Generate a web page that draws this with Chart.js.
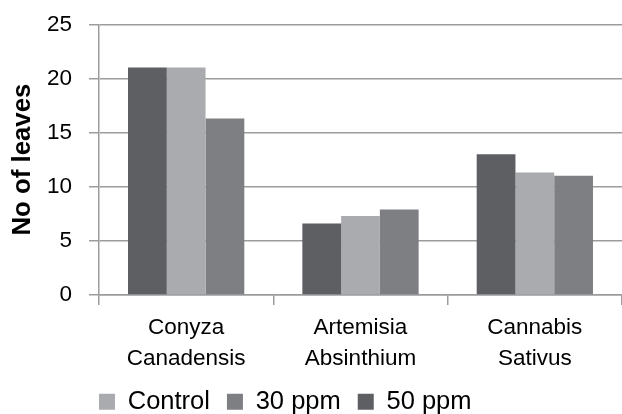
<!DOCTYPE html>
<html>
<head>
<meta charset="utf-8">
<script src="https://cdn.jsdelivr.net/npm/chart.js@4/dist/chart.umd.min.js"></script>
<style>
html,body{margin:0;padding:0;background:#fff;}
#wrap{width:622px;height:414px;}
</style>
</head>
<body>
<div id="wrap"><canvas id="c"></canvas></div>
<script>
const categories = [["Conyza","Canadensis"],["Artemisia","Absinthium"],["Cannabis","Sativus"]];
const ppm50 = [21, 6.6, 13];
const control = [21, 7.3, 11.3];
const ppm30 = [16.3, 7.9, 11];
const legendOrder = ["Control", "30 ppm", "50 ppm"];
const yTicks = [0, 5, 10, 15, 20, 25];

const gridColor = '#9c9c9c';
const FONT = '"Liberation Sans"';
const LEGEND_RAISE = 9;

const shiftLegend = {
  id: 'shiftLegend',
  afterLayout(chart) {
    const lg = chart.legend;
    const pad = lg.options.labels.padding;
    const w = lg.right - lg.left;
    lg.left = chart.chartArea.left - pad;
    lg.right = lg.left + w;
    lg.top -= LEGEND_RAISE;
    lg.bottom -= LEGEND_RAISE;
  }
};

new Chart(document.getElementById('c'), {
  type: 'bar',
  data: {
    labels: categories,
    datasets: [
      { label: '50 ppm', data: ppm50, backgroundColor: '#5e5f63' },
      { label: 'Control', data: control, backgroundColor: '#a9abae' },
      { label: '30 ppm', data: ppm30, backgroundColor: '#7e7f83' }
    ]
  },
  options: {
    responsive: true,
    maintainAspectRatio: false,
    animation: false,
    devicePixelRatio: 1,
    layout: { padding: { top: 2, right: 0, left: 7, bottom: -19.5 } },
    datasets: { bar: { categoryPercentage: 0.667, barPercentage: 1.0 } },
    plugins: {
      tooltip: { enabled: false },
      legend: {
        position: 'bottom',
        align: 'start',
        fullSize: false,
        labels: {
          boxWidth: 16,
          boxHeight: 16,
          padding: 17,
          color: '#000',
          font: { family: FONT, size: 25.5 },
          sort: (a, b) => legendOrder.indexOf(a.text) - legendOrder.indexOf(b.text)
        }
      }
    },
    scales: {
      x: {
        offset: true,
        grid: {
          offset: true,
          drawOnChartArea: false,
          drawTicks: true,
          tickLength: 10,
          color: gridColor,
          lineWidth: 1.5
        },
        border: { display: true, color: gridColor, width: 1.5 },
        ticks: {
          color: '#000',
          font: { family: FONT, size: 22.5, lineHeight: 1.38 },
          padding: 7,
          maxRotation: 0,
          autoSkip: false
        }
      },
      y: {
        min: 0,
        max: 25,
        afterBuildTicks: (axis) => { axis.ticks = yTicks.map(v => ({ value: v })); },
        grid: {
          color: gridColor,
          lineWidth: 1.5,
          drawTicks: true,
          tickLength: 10
        },
        border: { display: true, color: gridColor, width: 1.5 },
        ticks: {
          color: '#000',
          font: { family: FONT, size: 22.5, lineHeight: 0.65 },
          padding: 17
        },
        title: {
          display: true,
          text: 'No of leaves',
          color: '#000',
          font: { family: FONT, size: 25.8, weight: 'bold', lineHeight: 1.2 },
          padding: { top: 0, bottom: -8 }
        }
      }
    }
  },
  plugins: [shiftLegend]
});
</script>
</body>
</html>
